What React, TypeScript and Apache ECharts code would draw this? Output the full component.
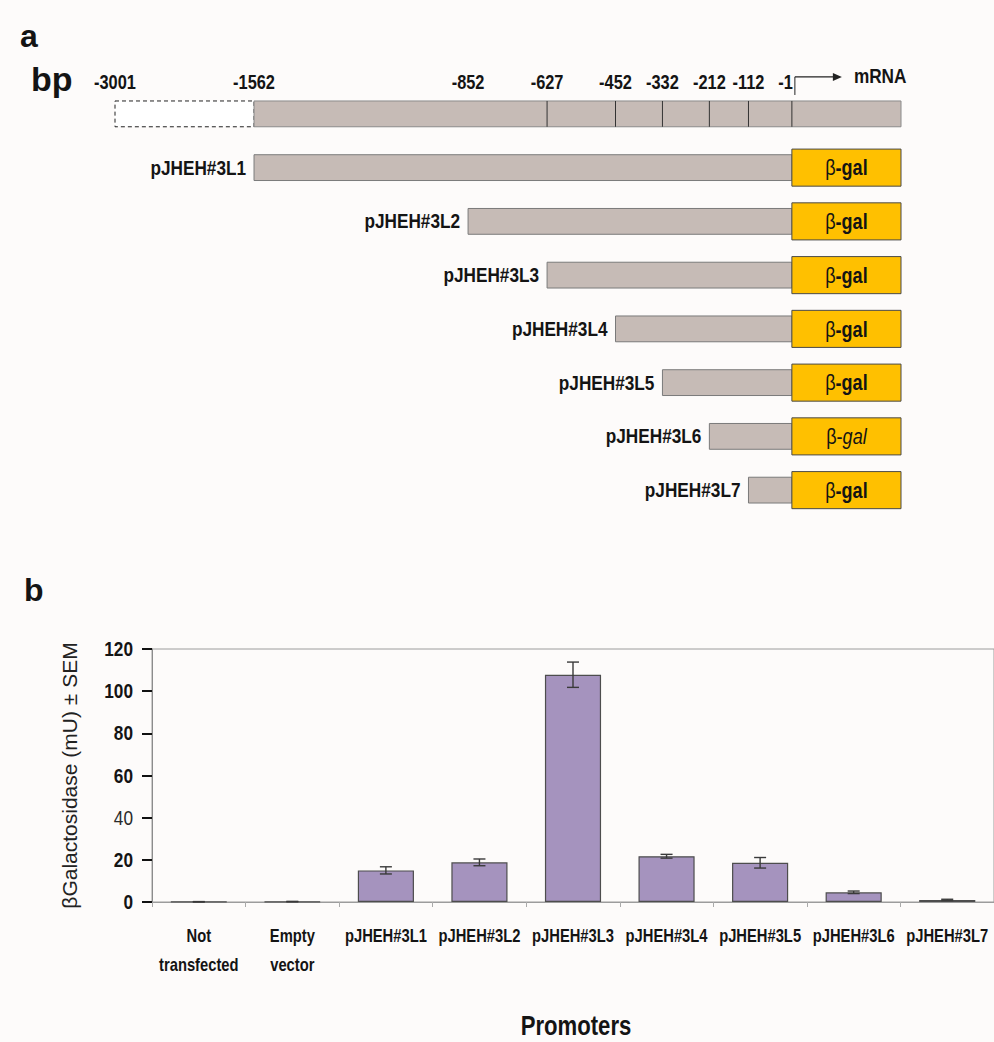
import React, { useEffect, useRef } from 'react';
import * as echarts from 'echarts';

// ---------- Panel a: promoter deletion constructs ----------
const bpMarks = [-3001, -1562, -852, -627, -452, -332, -212, -112, -1];
const separatorMarks = [-627, -452, -332, -212, -112, -1];
const constructNames = ['pJHEH#3L1', 'pJHEH#3L2', 'pJHEH#3L3', 'pJHEH#3L4', 'pJHEH#3L5', 'pJHEH#3L6', 'pJHEH#3L7'];
const constructStarts = [-1562, -852, -627, -452, -332, -212, -112];
const reporterItalic = [false, false, false, false, false, true, false];
const promoterEnd = -1;
const reporterEnd = 278;

// ---------- Panel b: beta-galactosidase activity ----------
const categories = ['Not\ntransfected', 'Empty\nvector', 'pJHEH#3L1', 'pJHEH#3L2', 'pJHEH#3L3', 'pJHEH#3L4', 'pJHEH#3L5', 'pJHEH#3L6', 'pJHEH#3L7'];
const activity = [0.1, 0.2, 15.0, 18.8, 107.8, 21.7, 18.6, 4.6, 1.0];
const sem = [0.1, 0.1, 1.7, 1.6, 6.0, 0.9, 2.5, 0.6, 0.3];
const yTickLabels = [0, 20, 40, 60, 80, 100, 120];
const yMin = 0;
const yMax = 120;
const yStep = 20;

const SANS = "'Liberation Sans', Arial, sans-serif";
const NARROW_SCALE = 0.82;
const GRAY = '#C6BBB6';
const GOLD = '#FFC000';
const INK = '#141414';

function narrowText(x: number, y: number, style: any) {
  return { type: 'text', x, y, scaleX: NARROW_SCALE, style: { x: 0, y: 0, fontFamily: SANS, fill: INK, ...style } };
}

function renderDiagram(params: any, api: any) {
  const start = api.value(0);
  const row = api.value(1);
  const band = api.size([0, 1])[1];
  const [xS, yC] = api.coord([start, row]);
  const xP = api.coord([promoterEnd, row])[0];
  const xR = api.coord([reporterEnd, row])[0];
  const barH = band * 0.48;
  const children: any[] = [];
  if (params.dataIndex === 0) {
    const x1 = api.coord([bpMarks[1], row])[0];
    children.push({
      type: 'rect',
      shape: { x: xS, y: yC - barH / 2, width: x1 - xS, height: barH },
      style: { fill: '#ffffff', stroke: '#222', lineWidth: 1, lineDash: [4, 3] },
    });
    children.push({
      type: 'rect',
      shape: { x: x1, y: yC - barH / 2, width: xR - x1, height: barH },
      style: { fill: GRAY, stroke: '#8a8a8a', lineWidth: 1 },
    });
    separatorMarks.forEach((m) => {
      const xm = api.coord([m, row])[0];
      children.push({
        type: 'line',
        shape: { x1: xm, y1: yC - barH / 2, x2: xm, y2: yC + barH / 2 },
        style: { stroke: '#333', lineWidth: 1 },
      });
    });
    bpMarks.forEach((m) => {
      const xm = api.coord([m, row])[0];
      const last = m === promoterEnd;
      children.push(
        narrowText(last ? xm + 1 : xm, yC - 32, {
          text: String(m),
          align: last ? 'right' : 'center',
          verticalAlign: 'middle',
          fontSize: 20,
          fontWeight: 'bold',
        })
      );
    });
    const ax = xP + 3;
    const ay = yC - 37;
    children.push({ type: 'line', shape: { x1: ax, y1: yC - barH / 2 - 6, x2: ax, y2: ay }, style: { stroke: '#222', lineWidth: 1 } });
    children.push({ type: 'line', shape: { x1: ax, y1: ay, x2: ax + 40, y2: ay }, style: { stroke: '#222', lineWidth: 1.2 } });
    children.push({ type: 'polygon', shape: { points: [[ax + 38, ay - 4], [ax + 47, ay], [ax + 38, ay + 4]] }, style: { fill: '#222' } });
    children.push(narrowText(ax + 59, ay - 1, { text: 'mRNA', align: 'left', verticalAlign: 'middle', fontSize: 21, fontWeight: 'bold' }));
  } else {
    const idx = row - 1;
    const boxH = band * 0.69;
    children.push({
      type: 'rect',
      shape: { x: xS, y: yC - barH / 2, width: xP - xS, height: barH },
      style: { fill: GRAY, stroke: '#7a7a7a', lineWidth: 1 },
    });
    children.push({
      type: 'rect',
      shape: { x: xP, y: yC - boxH / 2, width: xR - xP, height: boxH },
      style: { fill: GOLD, stroke: '#4a4a4a', lineWidth: 1 },
    });
    children.push(
      narrowText(xS - 8, yC, {
        text: constructNames[idx],
        align: 'right',
        verticalAlign: 'middle',
        fontSize: 21,
        fontWeight: 'bold',
      })
    );
    const italic = reporterItalic[idx];
    children.push(
      narrowText((xP + xR) / 2, yC, {
        text: italic ? '{a|β-}{c|gal}' : '{a|β}{b|-gal}',
        align: 'center',
        verticalAlign: 'middle',
        rich: {
          a: { fontSize: 22, fontFamily: SANS, fontWeight: 'normal', fill: INK, color: INK },
          b: { fontSize: 22, fontFamily: SANS, fontWeight: 'bold', fill: INK, color: INK },
          c: { fontSize: 22, fontFamily: SANS, fontStyle: 'italic', fontWeight: 'normal', fill: INK, color: INK },
        },
      })
    );
  }
  return { type: 'group', children };
}

function renderErr(params: any, api: any) {
  const i = api.value(0);
  const v = api.value(1);
  const e = api.value(2);
  const pTop = api.coord([i, v + e]);
  const pBot = api.coord([i, Math.max(0, v - e)]);
  const cap = 6;
  const st = { stroke: '#3a3a3a', lineWidth: 1.4 };
  return {
    type: 'group',
    children: [
      { type: 'line', shape: { x1: pTop[0], y1: pTop[1], x2: pBot[0], y2: pBot[1] }, style: st },
      { type: 'line', shape: { x1: pTop[0] - cap, y1: pTop[1], x2: pTop[0] + cap, y2: pTop[1] }, style: st },
      { type: 'line', shape: { x1: pBot[0] - cap, y1: pBot[1], x2: pBot[0] + cap, y2: pBot[1] }, style: st },
    ],
  };
}

function renderCatLabel(params: any, api: any) {
  const i = api.value(0);
  const [px, py] = api.coord([i, yMin]);
  return narrowText(px, py + 19, {
    text: categories[i],
    align: 'center',
    verticalAlign: 'top',
    fontSize: 18,
    fontWeight: 'bold',
    lineHeight: 29,
  });
}

function renderYLabel(params: any, api: any) {
  const v = api.value(1);
  const band = api.size([1, 0])[0];
  const [px, py] = api.coord([0, v]);
  const axisX = px - band / 2;
  return narrowText(axisX - 19, py, {
    text: String(v),
    align: 'right',
    verticalAlign: 'middle',
    fontSize: 21,
    fontWeight: v === 40 ? 'normal' : 'bold',
    fill: v === 40 ? '#2a2a2a' : INK,
  });
}

export default function App() {
  const ref = useRef<HTMLDivElement>(null);
  useEffect(() => {
    if (!ref.current) return;
    const chart = echarts.init(ref.current, undefined, { renderer: 'svg' });
    const diagramRows = [[bpMarks[0], 0, reporterEnd], ...constructStarts.map((s, i) => [s, i + 1, reporterEnd])];
    const errData = categories.map((_, i) => [i, activity[i], sem[i]]);
    const labelData = categories.map((_, i) => [i, yMin]);
    const yLabelData = yTickLabels.map((v) => [0, v]);
    const option: any = {
      animation: false,
      backgroundColor: '#FDFBFA',
      textStyle: { fontFamily: SANS },
      grid: [
        { left: 115, right: 93, top: 87, height: 430 },
        { left: 152, right: -2, top: 649, height: 253, show: true, borderColor: '#9c9c9c', borderWidth: 1, backgroundColor: 'transparent' },
      ],
      xAxis: [
        {
          gridIndex: 0,
          type: 'value',
          min: bpMarks[0],
          max: reporterEnd,
          show: false,
          breaks: [
            { start: -2900, end: -1700, gap: 116.5 },
            { start: -1400, end: -1000, gap: 237.3 },
            { start: -800, end: -700, gap: 77 },
          ],
          breakArea: { show: false },
        },
        {
          gridIndex: 1,
          type: 'category',
          data: categories,
          axisLine: { lineStyle: { color: '#9c9c9c', width: 1 } },
          axisTick: { show: true, length: 5, lineStyle: { color: '#aaaaaa' } },
          axisLabel: { show: false },
        },
      ],
      yAxis: [
        { gridIndex: 0, type: 'category', data: ['', ...constructNames], inverse: true, show: false },
        {
          gridIndex: 1,
          type: 'value',
          min: yMin,
          max: yMax,
          interval: yStep,
          name: 'βGalactosidase (mU) ± SEM',
          nameLocation: 'middle',
          nameRotate: 90,
          nameGap: 72,
          nameTextStyle: { fontSize: 21, fontFamily: SANS, color: '#222' },
          axisLine: { show: true, lineStyle: { color: '#8c8c8c', width: 1 } },
          axisTick: { show: true, inside: false, length: 10, lineStyle: { color: '#111', width: 2 } },
          splitLine: { show: false },
          axisLabel: { show: false },
        },
      ],
      series: [
        {
          type: 'custom',
          xAxisIndex: 0,
          yAxisIndex: 0,
          renderItem: renderDiagram,
          data: diagramRows,
          encode: { x: [0, 2], y: 1 },
          clip: false,
          silent: true,
        },
        {
          type: 'bar',
          xAxisIndex: 1,
          yAxisIndex: 1,
          data: activity,
          barWidth: '60%',
          itemStyle: { color: '#A593BE', borderColor: '#4d4d4d', borderWidth: 1.2 },
          silent: true,
        },
        {
          type: 'custom',
          xAxisIndex: 1,
          yAxisIndex: 1,
          renderItem: renderErr,
          data: errData,
          encode: { x: 0, y: [1, 2] },
          z: 5,
          silent: true,
        },
        {
          type: 'custom',
          xAxisIndex: 1,
          yAxisIndex: 1,
          renderItem: renderCatLabel,
          data: labelData,
          encode: { x: 0, y: 1 },
          clip: false,
          silent: true,
        },
        {
          type: 'custom',
          xAxisIndex: 1,
          yAxisIndex: 1,
          renderItem: renderYLabel,
          data: yLabelData,
          encode: { x: 0, y: 1 },
          clip: false,
          silent: true,
        },
      ],
      graphic: [
        { type: 'text', left: 20, top: 20, style: { text: 'a', fontSize: 32, fontWeight: 'bold', fontFamily: SANS, fill: INK } },
        { type: 'text', left: 31, top: 62, style: { text: 'bp', fontSize: 34, fontWeight: 'bold', fontFamily: SANS, fill: INK } },
        { type: 'text', left: 24, top: 574, style: { text: 'b', fontSize: 32, fontWeight: 'bold', fontFamily: SANS, fill: INK } },
        {
          type: 'text',
          x: 576,
          y: 1026,
          scaleX: NARROW_SCALE,
          style: { text: 'Promoters', x: 0, y: 0, align: 'center', verticalAlign: 'middle', fontSize: 27, fontWeight: 'bold', fontFamily: SANS, fill: INK },
        },
      ],
    };
    chart.setOption(option);
    return () => chart.dispose();
  }, []);
  return <div ref={ref} style={{ position: 'absolute', left: 0, top: 0, width: 994, height: 1042 }} />;
}
